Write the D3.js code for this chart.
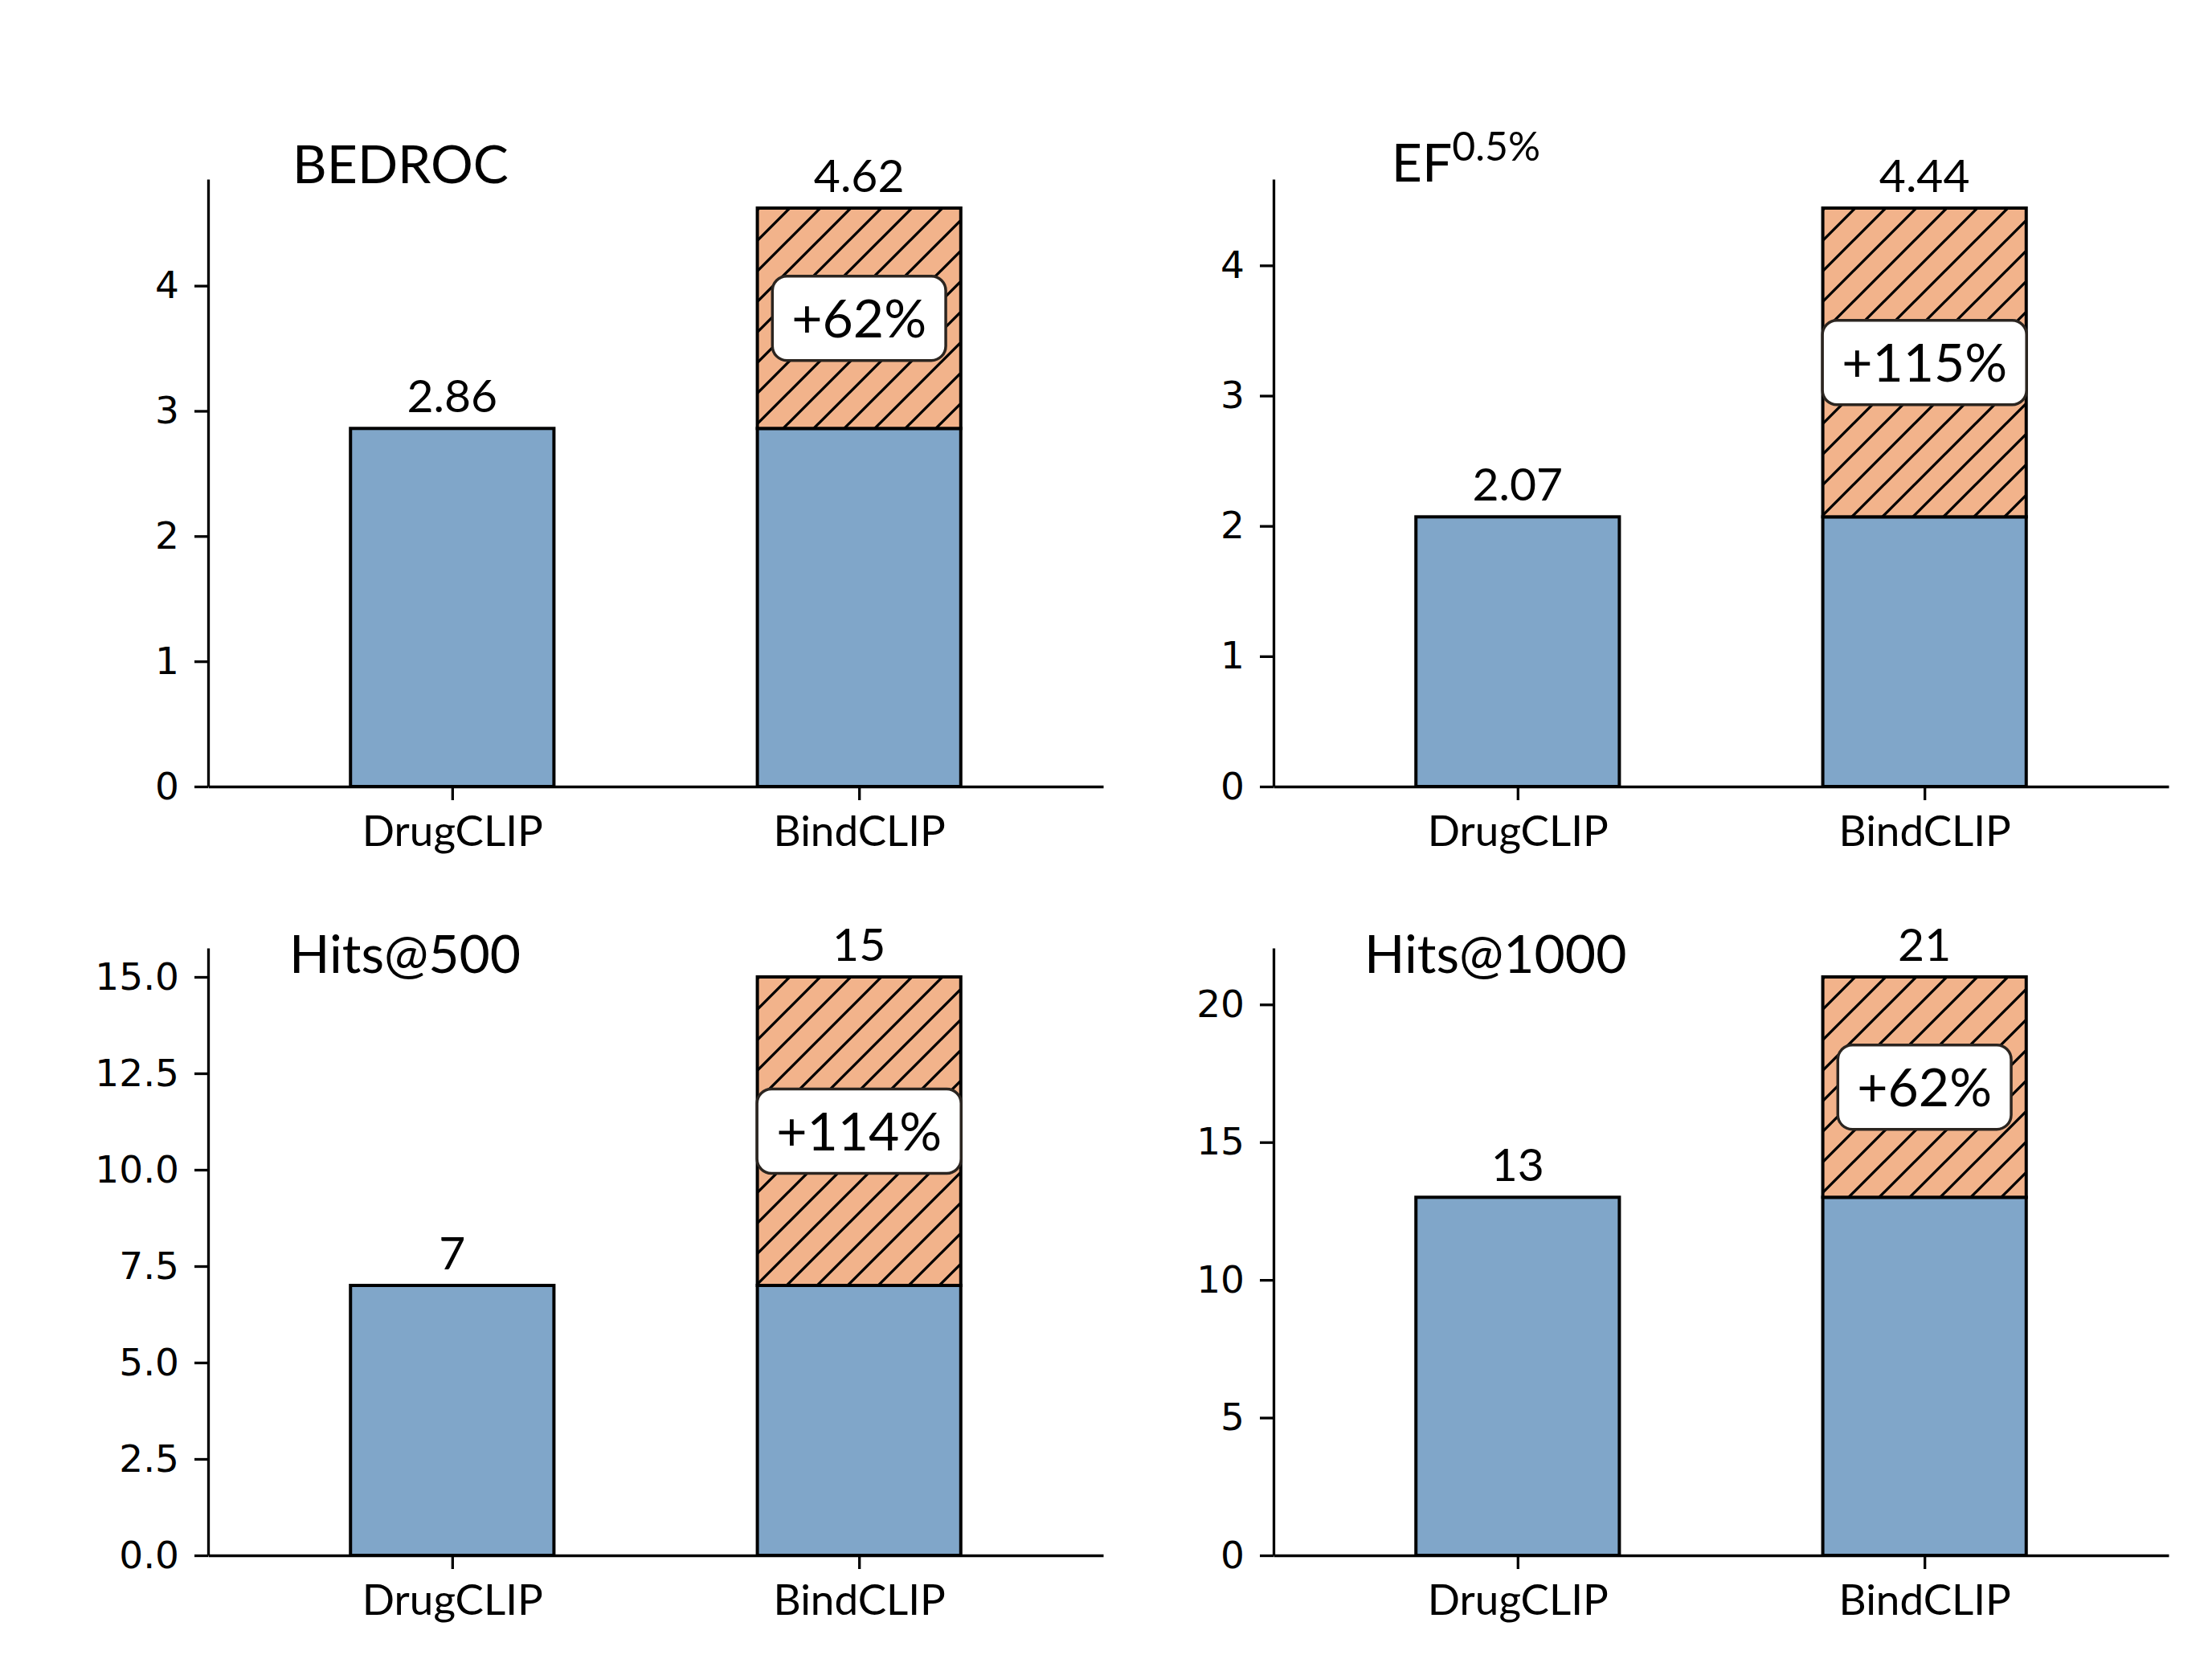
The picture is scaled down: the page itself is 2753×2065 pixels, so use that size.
<!DOCTYPE html>
<html>
<head>
<meta charset="utf-8">
<script src="https://cdn.jsdelivr.net/npm/d3@7"></script>
<style>
  html, body { margin: 0; padding: 0; background: #fff; }
</style>
</head>
<body>
<svg id="chart" width="2753" height="2065"></svg>
<script>
// values
const methods = ["DrugCLIP", "BindCLIP"];
const titleMain = ["BEDROC", "EF", "Hits@500", "Hits@1000"];
const titleSup = ["", "0.5%", "", ""];
const drugclipValues = [2.86, 2.07, 7, 13];
const bindclipValues = [4.62, 4.44, 15, 21];
const drugclipLabels = ["2.86", "2.07", "7", "13"];
const bindclipLabels = ["4.62", "4.44", "15", "21"];
const gainLabels = ["+62%", "+115%", "+114%", "+62%"];
const yTickValues = [
    [0, 1, 2, 3, 4],
    [0, 1, 2, 3, 4],
    [0, 2.5, 5, 7.5, 10, 12.5, 15],
    [0, 5, 10, 15, 20],
];
const yTickFormats = ["d", "d", ".1f", "d"];

// layout
const PANEL_LEFT = [259, 1585];
const PANEL_TOP = [223, 1180];
const PANEL_W = 1114;
const PANEL_H = 756;
const TITLE_X = [0.215, 0.215, 0.22, 0.248];
const TITLE_Y = [0.993, 0.996, 0.959, 0.959];

const BLUE = "#80a6c9";
const ORANGE = "#f2b38b";
const LABEL_FONT = "Lato, 'Open Sans', sans-serif";
const TICK_FONT = "'DejaVu Sans', sans-serif";

const svg = d3.select("#chart");

const defs = svg.append("defs");
const hatch = defs.append("pattern")
    .attr("id", "hatch")
    .attr("patternUnits", "userSpaceOnUse")
    .attr("width", 38)
    .attr("height", 38);
hatch.append("rect").attr("width", 38).attr("height", 38).attr("fill", ORANGE);
hatch.append("path")
    .attr("d", "M0,38 L38,0 M-6,6 L6,-6 M32,44 L44,32")
    .attr("stroke", "#000")
    .attr("stroke-width", 3.3);

function drawPanel(i) {
    const left = PANEL_LEFT[i % 2];
    const top = PANEL_TOP[Math.floor(i / 2)];
    const g = svg.append("g").attr("transform", `translate(${left},${top})`);

    const x = d3.scaleLinear().domain([-0.6, 1.6]).range([0, PANEL_W]);
    const y = d3.scaleLinear().domain([0, bindclipValues[i] * 1.05]).range([PANEL_H, 0]);
    const barW = x(0.25) - x(-0.25);

    // base bars (DrugCLIP level in both)
    g.selectAll("rect.base")
        .data([drugclipValues[i], drugclipValues[i]])
        .join("rect")
        .attr("class", "base")
        .attr("x", (d, k) => x(k) - barW / 2)
        .attr("y", d => y(d))
        .attr("width", barW)
        .attr("height", d => y(0) - y(d))
        .attr("fill", BLUE)
        .attr("stroke", "#000")
        .attr("stroke-width", 4);

    // gain on top of BindCLIP
    g.append("rect")
        .attr("x", x(1) - barW / 2)
        .attr("y", y(bindclipValues[i]))
        .attr("width", barW)
        .attr("height", y(drugclipValues[i]) - y(bindclipValues[i]))
        .attr("fill", "url(#hatch)")
        .attr("stroke", "#000")
        .attr("stroke-width", 4);

    // value labels
    g.selectAll("text.value")
        .data([[drugclipValues[i], drugclipLabels[i]], [bindclipValues[i], bindclipLabels[i]]])
        .join("text")
        .attr("class", "value")
        .attr("x", (d, k) => x(k))
        .attr("y", d => y(d[0]) - 20)
        .attr("text-anchor", "middle")
        .attr("font-family", LABEL_FONT)
        .attr("font-size", 57)
        .attr("fill", "#000")
        .text(d => d[1]);

    // gain box
    const boxFont = 66;
    const cap = boxFont * 0.72;
    const boxH = 105;
    const midY = y((drugclipValues[i] + bindclipValues[i]) / 2);
    const boxG = g.append("g");
    const rect = boxG.append("rect");
    const gainText = boxG.append("text")
        .attr("x", x(1))
        .attr("y", midY + cap / 2)
        .attr("text-anchor", "middle")
        .attr("font-family", LABEL_FONT)
        .attr("font-size", boxFont)
        .attr("fill", "#000")
        .text(gainLabels[i]);
    const tw = gainText.node().getComputedTextLength();
    rect.attr("x", x(1) - tw / 2 - 24)
        .attr("y", midY - boxH / 2)
        .attr("width", tw + 48)
        .attr("height", boxH)
        .attr("rx", 18)
        .attr("fill", "#fff")
        .attr("stroke", "#2b2520")
        .attr("stroke-width", 3.5);

    // axes
    const yAxis = d3.axisLeft(y)
        .tickValues(yTickValues[i])
        .tickFormat(d3.format(yTickFormats[i]))
        .tickSize(17)
        .tickSizeOuter(0)
        .tickPadding(19);
    const ya = g.append("g").call(yAxis);
    ya.attr("font-family", TICK_FONT).attr("font-size", 47);

    const xAxis = d3.axisBottom(x)
        .tickValues([0, 1])
        .tickFormat(k => methods[k])
        .tickSize(17)
        .tickSizeOuter(0)
        .tickPadding(19);
    const xa = g.append("g").attr("transform", `translate(0,${PANEL_H})`).call(xAxis);
    xa.attr("font-family", LABEL_FONT).attr("font-size", 53);

    [ya, xa].forEach(a => {
        a.select(".domain").attr("stroke", "#000").attr("stroke-width", 3.3);
        a.selectAll(".tick line").attr("stroke", "#000").attr("stroke-width", 3.3);
        a.selectAll(".tick text").attr("fill", "#000");
    });

    // title
    const title = g.append("text")
        .attr("x", PANEL_W * TITLE_X[i])
        .attr("y", PANEL_H * (1 - TITLE_Y[i]))
        .attr("text-anchor", "middle")
        .attr("font-family", LABEL_FONT)
        .attr("font-size", 66)
        .attr("fill", "#000")
        .text(titleMain[i]);
    if (titleSup[i]) {
        title.append("tspan")
            .attr("dy", -26)
            .attr("font-size", 50)
            .text(titleSup[i]);
    }
}

d3.range(4).forEach(drawPanel);
</script>
</body>
</html>
